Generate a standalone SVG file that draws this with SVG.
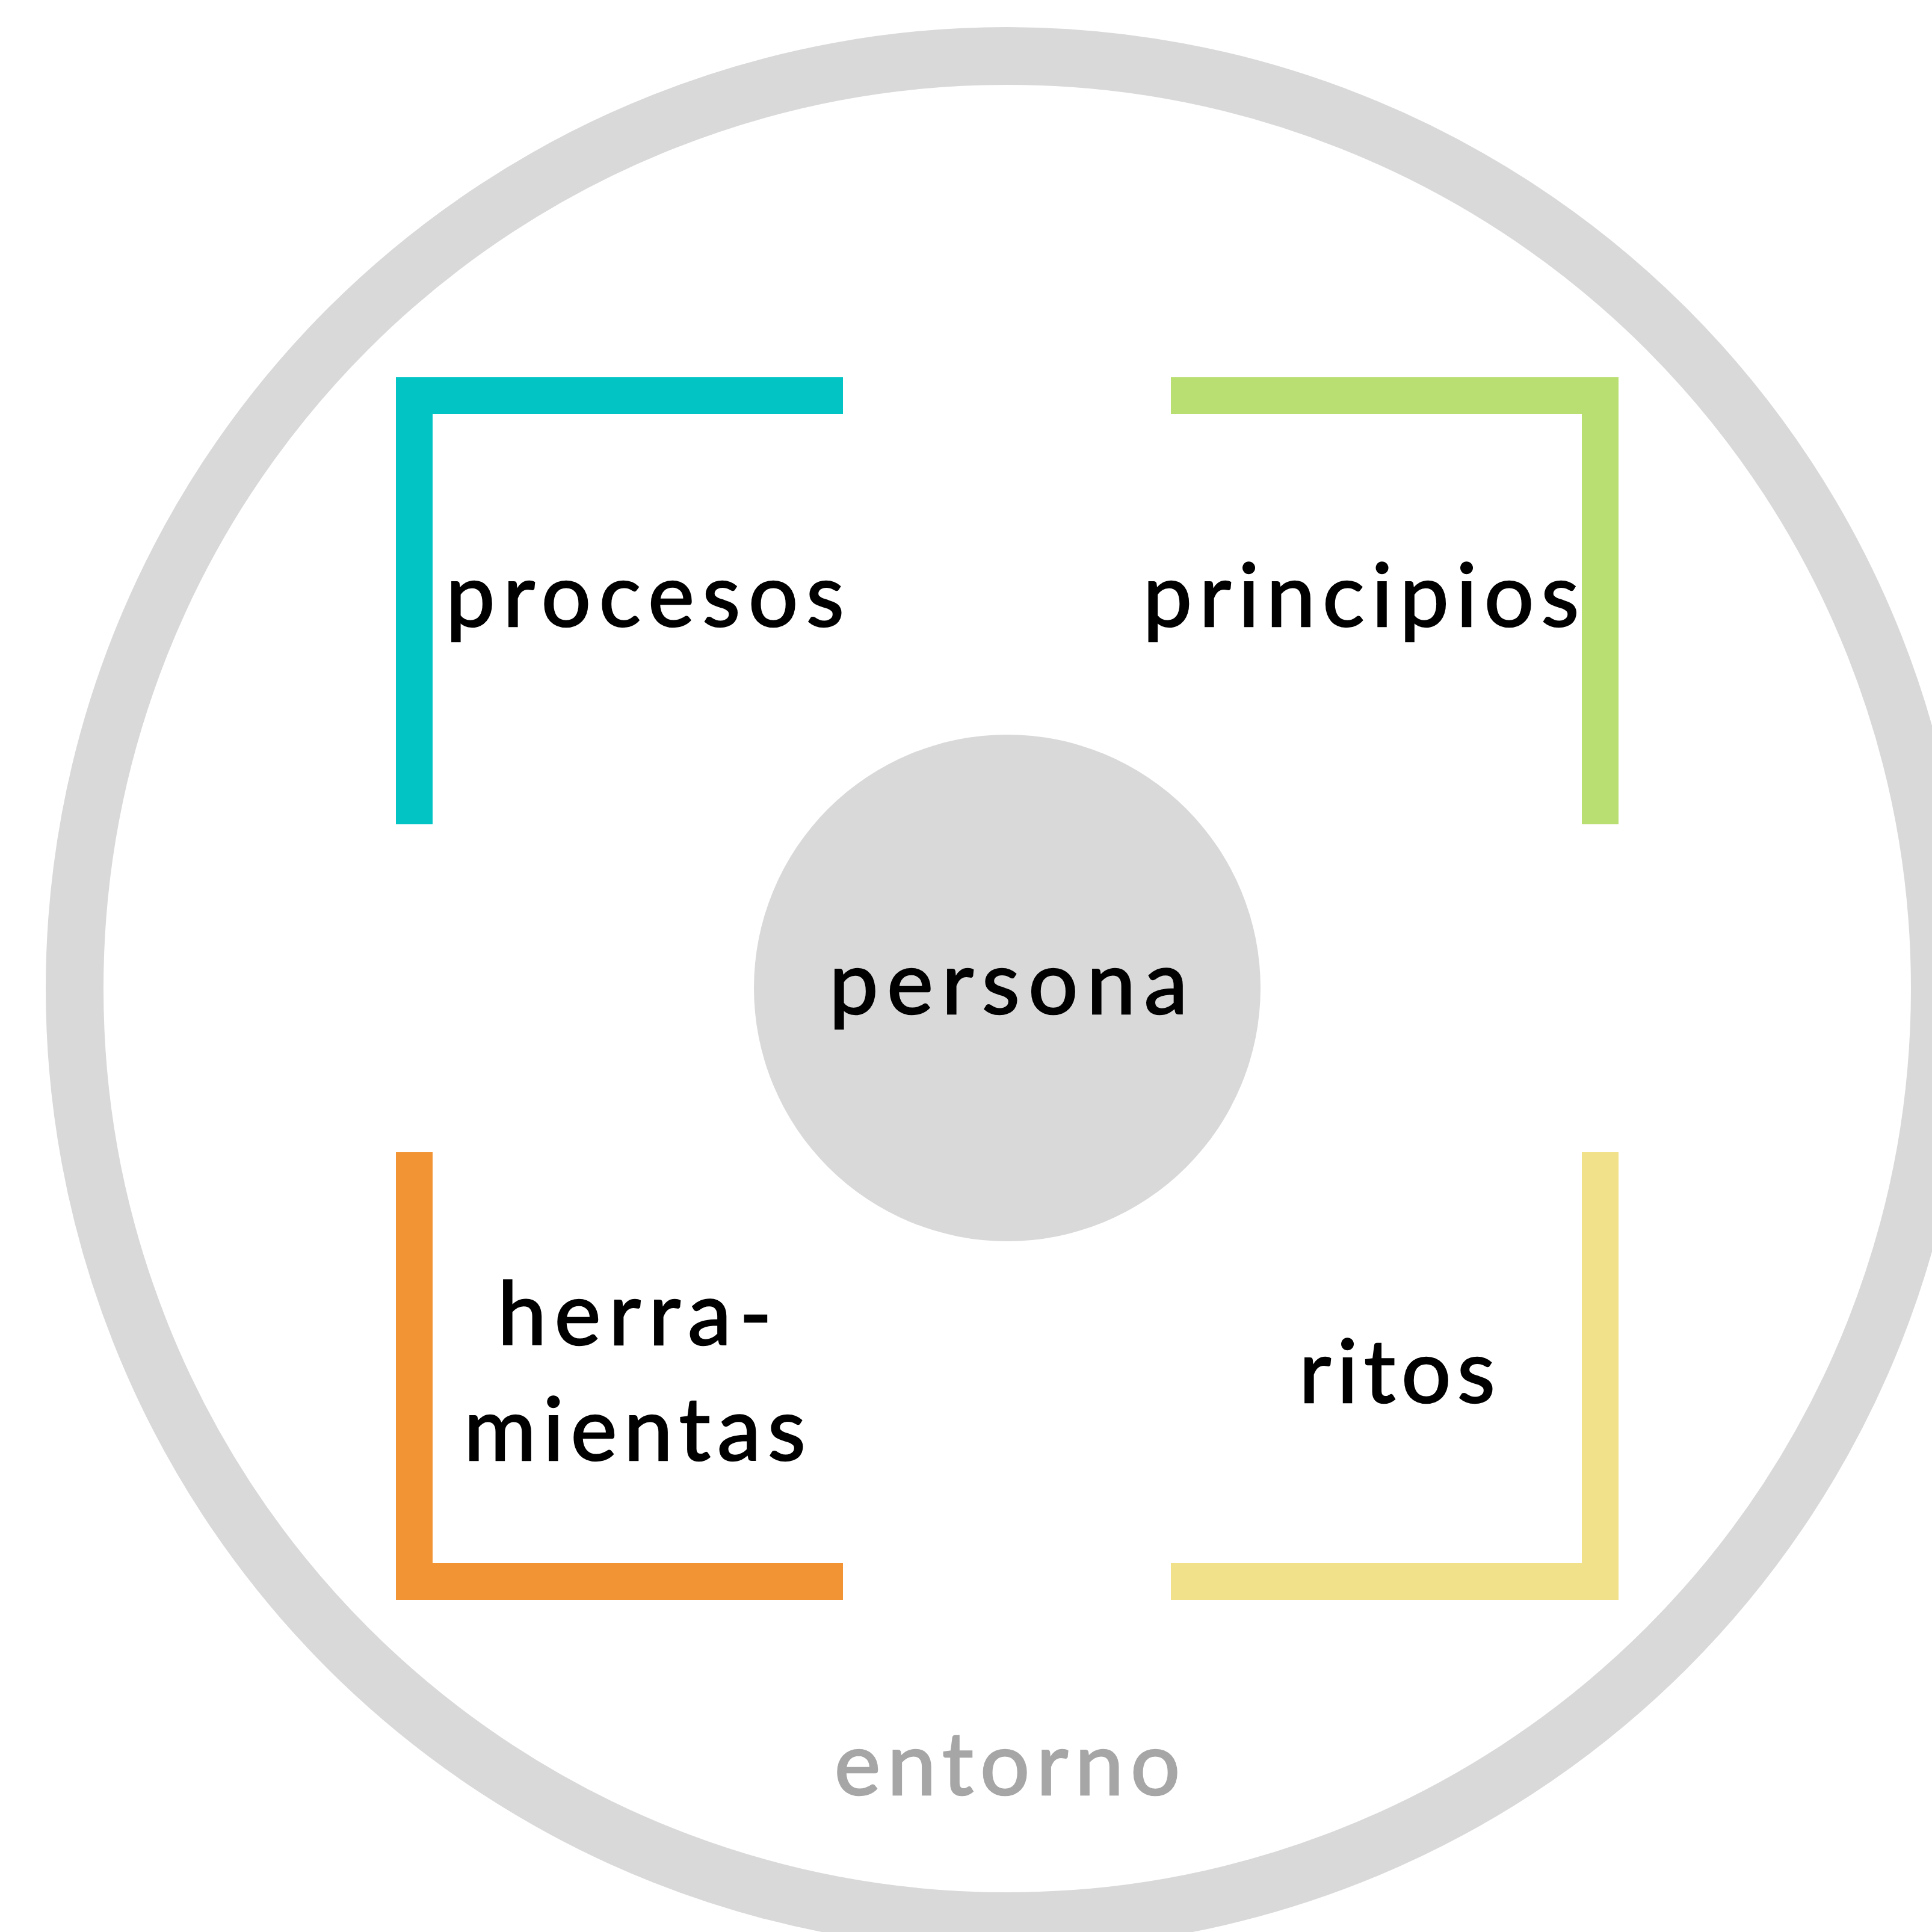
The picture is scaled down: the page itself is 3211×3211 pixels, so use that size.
<svg xmlns="http://www.w3.org/2000/svg" width="3211" height="3211" viewBox="0 0 3211 3211">
  <style>
    .lbl { font-family: Lato, "Noto Sans", "DejaVu Sans", sans-serif; font-size: 146px; fill: #000000; stroke: #000000; stroke-width: 2.5; text-anchor: middle; }
    .env { fill: #A6A6A6; stroke: #A6A6A6; }
    .br { fill: none; stroke-width: 61; stroke-linejoin: miter; stroke-linecap: butt; }
  </style>
  <rect x="0" y="0" width="3211" height="3211" fill="#FFFFFF"/>
  <g id="entorno">
    <circle cx="1674" cy="1643" r="1550" fill="none" stroke="#D9D9D9" stroke-width="96"/>
    <text class="lbl env" x="1674" y="2983" textLength="575" lengthAdjust="spacing">entorno</text>
  </g>
  <g id="persona">
    <circle cx="1674" cy="1642" r="421" fill="#D9D9D9"/>
    <text class="lbl" x="1676" y="1685" textLength="596" lengthAdjust="spacing">persona</text>
  </g>
  <g id="procesos">
    <path class="br" stroke="#03C4C4" d="M688.5 1370 V657.5 H1401"/>
    <text class="lbl" x="1072" y="1041" textLength="662" lengthAdjust="spacing">procesos</text>
  </g>
  <g id="principios">
    <path class="br" stroke="#B9DF72" d="M1946 657.5 H2659.5 V1370"/>
    <text class="lbl" x="2262" y="1041" textLength="725" lengthAdjust="spacing">principios</text>
  </g>
  <g id="herramientas">
    <path class="br" stroke="#F29434" d="M688.5 1915 V2628.5 H1401"/>
    <text class="lbl" x="1055" y="2235" textLength="456" lengthAdjust="spacing">herra-</text>
    <text class="lbl" x="1055" y="2427" textLength="568" lengthAdjust="spacing">mientas</text>
  </g>
  <g id="ritos">
    <path class="br" stroke="#F0E18A" d="M1946 2628.5 H2659.5 V1915"/>
    <text class="lbl" x="2322" y="2331" textLength="326" lengthAdjust="spacing">ritos</text>
  </g>
</svg>
